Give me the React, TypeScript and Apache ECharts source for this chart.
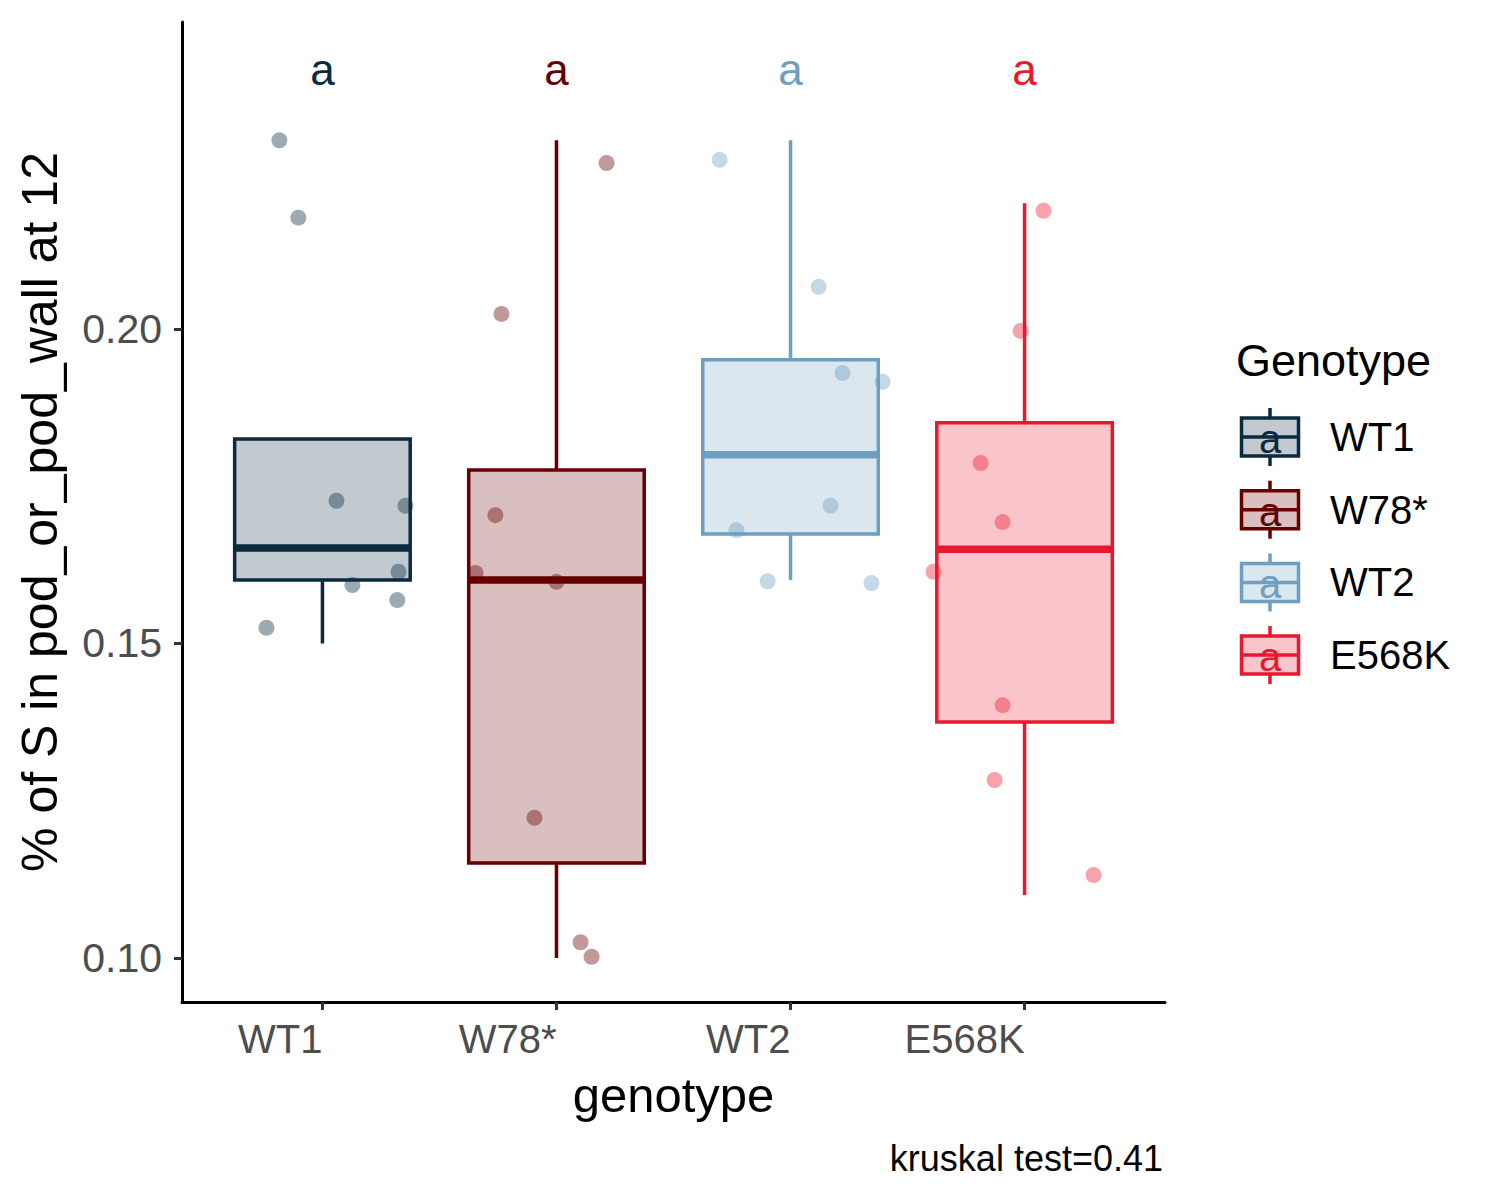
import React, { useEffect, useRef } from "react";
import * as echarts from "echarts";

const genotypes = ["WT1", "W78*", "WT2", "E568K"];
const lowWhisker = [0.15, 0.1, 0.1601, 0.11];
const q1 = [0.1601, 0.1151, 0.1674, 0.1375];
const median = [0.1652, 0.1601, 0.18, 0.165];
const q3 = [0.1825, 0.1776, 0.1951, 0.1851];
const highWhisker = [0.1825, 0.23, 0.23, 0.22];

const wt1Values = [0.23, 0.2177, 0.1727, 0.1719, 0.1593, 0.1614, 0.1569, 0.1525];
const wt1Jitter = [-0.184, -0.103, 0.06, 0.355, 0.128, 0.325, 0.32, -0.239];
const w78Values = [0.2264, 0.2024, 0.1704, 0.1612, 0.1598, 0.1223, 0.1025, 0.1002];
const w78Jitter = [0.214, -0.235, -0.261, -0.346, 0.0, -0.094, 0.103, 0.15];
const wt2Values = [0.2269, 0.2067, 0.193, 0.1916, 0.1719, 0.168, 0.1599, 0.1596];
const wt2Jitter = [-0.303, 0.12, 0.222, 0.393, 0.171, -0.231, -0.098, 0.346];
const e568kValues = [0.2188, 0.1997, 0.1787, 0.1693, 0.1614, 0.1402, 0.1283, 0.1132];
const e568kJitter = [0.081, -0.017, -0.188, -0.094, -0.389, -0.094, -0.128, 0.295];

const letters = ["a", "a", "a", "a"];
const letterY = 0.2412;
const yTicks = [0.1, 0.15, 0.2];
const xTicks = [1, 2, 3, 4];
const caption = "kruskal test=0.41";

const colors = ["#0B2A3F", "#660000", "#6E9EC0", "#E8192F"];
const FONT = "'Liberation Sans', Arial, Helvetica, sans-serif";

function rgba(hex: string, a: number) {
  const r = parseInt(hex.slice(1, 3), 16);
  const g = parseInt(hex.slice(3, 5), 16);
  const b = parseInt(hex.slice(5, 7), 16);
  return `rgba(${r},${g},${b},${a})`;
}

const pointSets = [
  { values: wt1Values, jitter: wt1Jitter },
  { values: w78Values, jitter: w78Jitter },
  { values: wt2Values, jitter: wt2Jitter },
  { values: e568kValues, jitter: e568kJitter },
];

export default function App() {
  const ref = useRef<HTMLDivElement>(null);
  useEffect(() => {
    document.body.style.margin = "0";
    const chart = echarts.init(ref.current!, null, { renderer: "svg" });

    const boxData = genotypes.map((g, i) => [
      i + 1,
      lowWhisker[i],
      q1[i],
      median[i],
      q3[i],
      highWhisker[i],
      i,
    ]);

    const boxSeries = {
      type: "custom",
      name: "box",
      data: boxData,
      encode: { x: 0, y: [1, 2, 3, 4, 5] },
      renderItem: (params: any, api: any) => {
        const x = api.value(0);
        const idx = api.value(6);
        const col = colors[idx];
        const half = api.size([0.75, 0])[0] / 2;
        const pLow = api.coord([x, api.value(1)]);
        const pQ1 = api.coord([x, api.value(2)]);
        const pMed = api.coord([x, api.value(3)]);
        const pQ3 = api.coord([x, api.value(4)]);
        const pHigh = api.coord([x, api.value(5)]);
        const cx = pMed[0];
        return {
          type: "group",
          children: [
            {
              type: "line",
              shape: { x1: cx, y1: pQ3[1], x2: cx, y2: pHigh[1] },
              style: { stroke: col, lineWidth: 3.5 },
            },
            {
              type: "line",
              shape: { x1: cx, y1: pQ1[1], x2: cx, y2: pLow[1] },
              style: { stroke: col, lineWidth: 3.5 },
            },
            {
              type: "rect",
              shape: { x: cx - half, y: pQ3[1], width: 2 * half, height: pQ1[1] - pQ3[1] },
              style: { fill: rgba(col, 0.25), stroke: col, lineWidth: 3.5 },
            },
            {
              type: "line",
              shape: { x1: cx - half, y1: pMed[1], x2: cx + half, y2: pMed[1] },
              style: { stroke: col, lineWidth: 7.5 },
            },
          ],
        };
      },
      z: 2,
    };

    const scatterSeries = pointSets.map((ps, i) => ({
      type: "scatter",
      name: genotypes[i],
      data: ps.values.map((v, k) => [i + 1 + ps.jitter[k], v]),
      symbol: "circle",
      symbolSize: 16,
      itemStyle: { color: rgba(colors[i], 0.5) },
      z: 3,
    }));

    const letterSeries = {
      type: "custom",
      name: "letters",
      data: letters.map((l, i) => [i + 1, letterY, i]),
      encode: { x: 0, y: 1 },
      renderItem: (params: any, api: any) => {
        const idx = api.value(2);
        const p = api.coord([api.value(0), api.value(1)]);
        return {
          type: "text",
          x: p[0],
          y: p[1],
          style: {
            text: letters[idx],
            fill: colors[idx],
            fontSize: 44,
            fontFamily: FONT,
            align: "center",
            verticalAlign: "middle",
            textAlign: "center",
            textVerticalAlign: "middle",
          },
        };
      },
      z: 4,
    };

    const legendTop = 437;
    const legendStep = 72.7;
    const legendGraphics: any[] = [
      {
        type: "text",
        left: 1236,
        top: 338,
        style: { text: "Genotype", fontSize: 45, fontFamily: FONT, fill: "#000" },
      },
    ];
    genotypes.forEach((g, i) => {
      const cy = legendTop + i * legendStep;
      const col = colors[i];
      const cx = 1270;
      legendGraphics.push({
        type: "group",
        children: [
          { type: "line", shape: { x1: cx, y1: cy - 29, x2: cx, y2: cy - 19 }, style: { stroke: col, lineWidth: 3.5 } },
          { type: "line", shape: { x1: cx, y1: cy + 19, x2: cx, y2: cy + 29 }, style: { stroke: col, lineWidth: 3.5 } },
          {
            type: "rect",
            shape: { x: cx - 28.5, y: cy - 19, width: 57, height: 38 },
            style: { fill: rgba(col, 0.25), stroke: col, lineWidth: 3.5 },
          },
          { type: "line", shape: { x1: cx - 28.5, y1: cy, x2: cx + 28.5, y2: cy }, style: { stroke: col, lineWidth: 3.5 } },
          {
            type: "text",
            x: cx,
            y: cy + 2,
            style: {
              text: letters[i],
              fill: col,
              fontSize: 40,
              fontFamily: FONT,
              align: "center",
              verticalAlign: "middle",
              textAlign: "center",
              textVerticalAlign: "middle",
            },
          },
          {
            type: "text",
            x: 1330,
            y: cy,
            style: {
              text: g,
              fill: "#000",
              fontSize: 40,
              fontFamily: FONT,
              align: "left",
              verticalAlign: "middle",
              textAlign: "left",
              textVerticalAlign: "middle",
            },
          },
        ],
      });
    });
    legendGraphics.push({
      type: "text",
      x: 1163,
      y: 1158,
      style: {
        text: caption,
        fill: "#000",
        fontSize: 36,
        fontFamily: FONT,
        align: "right",
        verticalAlign: "middle",
        textAlign: "right",
        textVerticalAlign: "middle",
      },
    });

    chart.setOption({
      animation: false,
      backgroundColor: "#fff",
      grid: { left: 182, right: 335, top: 22, bottom: 198, containLabel: false, outerBoundsMode: "none" },
      xAxis: {
        type: "value",
        min: 0.4,
        max: 4.6,
        splitLine: { show: false },
        axisLine: { show: true, lineStyle: { color: "#000", width: 3 } },
        axisTick: { show: true, customValues: xTicks, length: 8, lineStyle: { color: "#333", width: 3 } },
        axisLabel: {
          customValues: xTicks,
          formatter: (v: number) => genotypes[Math.round(v) - 1] ?? "",
          align: "right",
          fontSize: 40,
          color: "#4D4D4D",
          fontFamily: FONT,
          margin: 17,
        },
        name: "genotype",
        nameLocation: "middle",
        nameGap: 68,
        nameTextStyle: { fontSize: 49, color: "#000", fontFamily: FONT },
      },
      yAxis: {
        type: "value",
        min: 0.093,
        max: 0.24881,
        splitLine: { show: false },
        axisLine: { show: true, lineStyle: { color: "#000", width: 3 } },
        axisTick: { show: true, customValues: yTicks, length: 8, lineStyle: { color: "#333", width: 3 } },
        axisLabel: {
          customValues: yTicks,
          formatter: (v: number) => v.toFixed(2),
          fontSize: 41,
          color: "#4D4D4D",
          fontFamily: FONT,
          margin: 20,
        },
        name: "% of S in pod_or_pod_wall at 12",
        nameLocation: "middle",
        nameGap: 117,
        nameTextStyle: { fontSize: 50, color: "#000", fontFamily: FONT },
      },
      graphic: legendGraphics,
      series: [boxSeries, ...scatterSeries, letterSeries],
    });
    return () => chart.dispose();
  }, []);
  return (
    <div
      ref={ref}
      style={{ position: "absolute", left: 0, top: 0, width: 1500, height: 1200 }}
    />
  );
}
